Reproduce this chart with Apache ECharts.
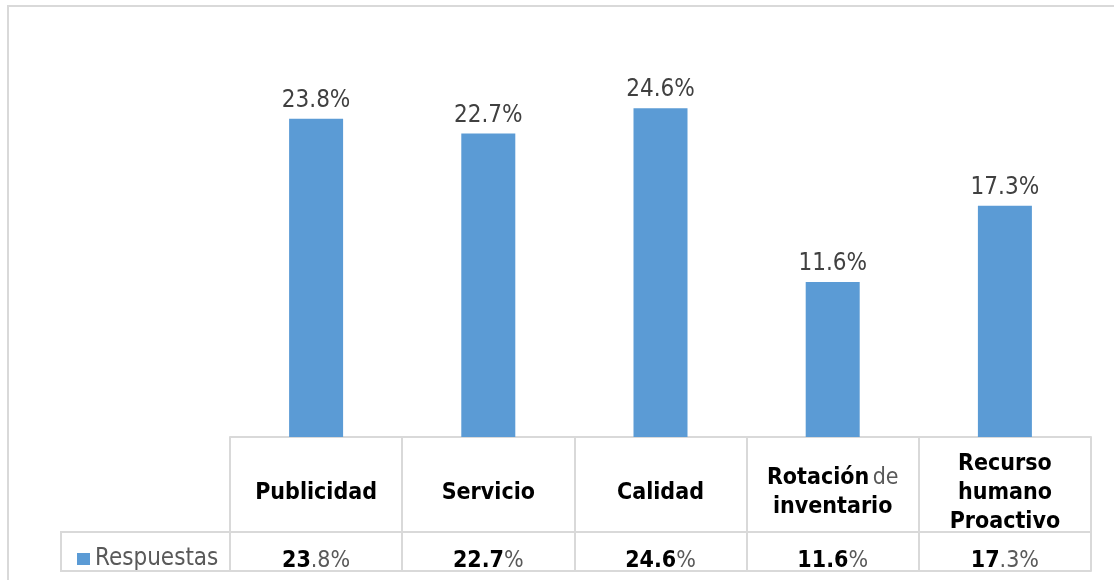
<!DOCTYPE html>
<html>
<head>
<meta charset="utf-8">
<script src="https://cdn.jsdelivr.net/npm/echarts@6/dist/echarts.min.js"></script>
<style>
  html, body { margin: 0; padding: 0; background: #fff; }
  #chart { width: 1114px; height: 580px; }
</style>
</head>
<body>
<div id="chart"></div>
<script>
// datos del gráfico
const categories = ['Publicidad', 'Servicio', 'Calidad', 'Rotación de inventario', 'Recurso humano Proactivo']
const respuestas = [23.8, 22.7, 24.6, 11.6, 17.3]
const seriesName = 'Respuestas'
// cuántos caracteres del valor salen en negrita en la tabla (como en el original)
const boldChars = [2, 4, 4, 4, 2]

const FONT = "'DejaVu Sans Condensed', 'DejaVu Sans', sans-serif"
const LINE = '#d9d9d9'

// etiquetas de categoría de la tabla
const catLabel = (val) => {
  if (val === 'Rotación de inventario') return '{b|Rotación} {g|de}\n{b|inventario}'
  if (val === 'Recurso humano Proactivo') return '{b|Recurso}\n{b|humano}\n{b|Proactivo}'
  return '{b|' + val + '}'
}

// fila de valores de la tabla
const valLabel = (val, idx) => {
  const txt = respuestas[idx].toFixed(1) + '%'
  const n = boldChars[idx]
  return '{b|' + txt.slice(0, n) + '}{g|' + txt.slice(n) + '}'
}

const chart = echarts.init(document.getElementById('chart'))

chart.setOption({
  animation: false,
  textStyle: { fontFamily: FONT },
  grid: { left: 230, right: 23, top: 36, bottom: 143 },
  legend: {
    data: [seriesName],
    left: 72, top: 542,
    icon: 'rect', itemWidth: 13, itemHeight: 12, itemGap: 6,
    textStyle: { color: '#595959', fontSize: 24, fontFamily: FONT, padding: [4, 0, 0, 0] }
  },
  xAxis: [
    {
      type: 'category',
      data: categories,
      position: 'bottom',
      axisLine: { lineStyle: { color: LINE, width: 2 } },
      axisTick: { show: true, alignWithLabel: false, length: 134, lineStyle: { color: LINE, width: 2 } },
      axisLabel: {
        margin: 56,
        verticalAlign: 'middle',
        interval: 0,
        formatter: catLabel,
        rich: {
          b: { fontSize: 23, fontWeight: 'bold', color: '#000', lineHeight: 29, fontFamily: FONT },
          g: { fontSize: 23, color: '#595959', lineHeight: 29, fontFamily: FONT }
        }
      }
    },
    {
      type: 'category',
      data: categories,
      position: 'bottom',
      offset: 95,
      axisLine: { lineStyle: { color: LINE, width: 2 } },
      axisTick: { show: false },
      axisLabel: {
        margin: 29,
        verticalAlign: 'middle',
        interval: 0,
        formatter: valLabel,
        rich: {
          b: { fontSize: 23, fontWeight: 'bold', color: '#000', fontFamily: FONT },
          g: { fontSize: 23, color: '#595959', fontFamily: FONT }
        }
      }
    },
    {
      type: 'category',
      data: categories,
      position: 'bottom',
      offset: 134,
      axisLine: { lineStyle: { color: LINE, width: 2 } },
      axisTick: { show: false },
      axisLabel: { show: false }
    }
  ],
  yAxis: {
    type: 'value',
    min: 0, max: 30,
    show: false,
    splitLine: { show: false }
  },
  series: [{
    name: seriesName,
    type: 'bar',
    data: respuestas,
    barWidth: 54,
    itemStyle: { color: '#5b9bd5' },
    label: {
      show: true,
      position: 'top',
      distance: 6,
      formatter: '{c}%',
      fontSize: 24,
      color: '#404040',
      fontFamily: FONT
    }
  }],
  graphic: [
    {
      type: 'rect',
      shape: { x: 8, y: 6, width: 1200, height: 700 },
      style: { fill: 'none', stroke: LINE, lineWidth: 2 },
      silent: true
    },
    {
      type: 'rect',
      shape: { x: 61, y: 532, width: 169, height: 39 },
      style: { fill: 'none', stroke: LINE, lineWidth: 2 },
      silent: true
    }
  ]
})
</script>
</body>
</html>
